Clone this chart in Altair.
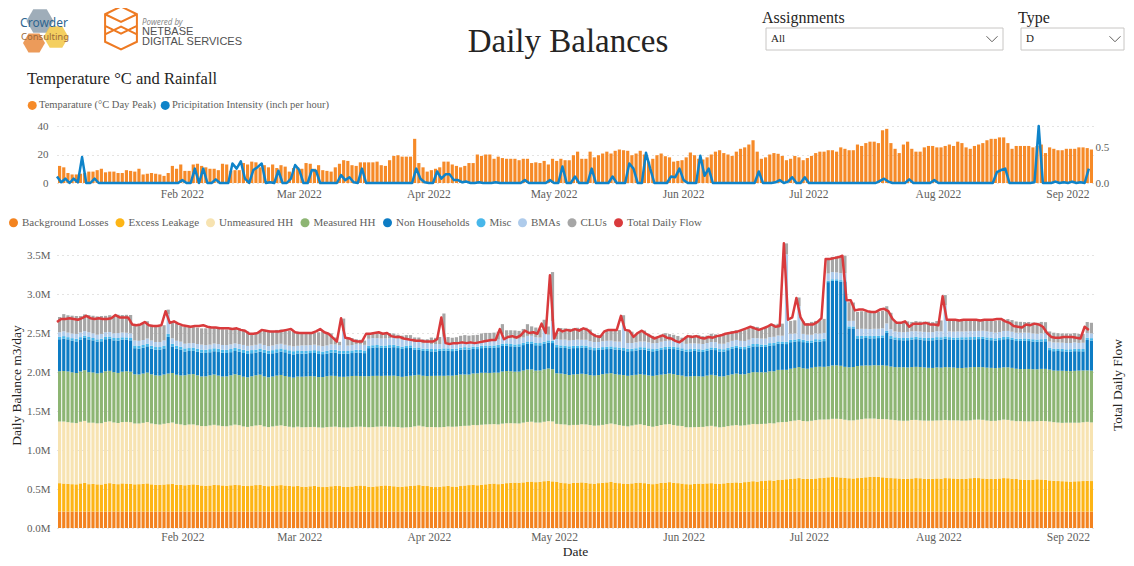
import altair as alt
import pandas as pd

# ------------------------------------------------------------------ data
dates = pd.date_range("2022-01-02", "2022-09-06", freq="D").strftime("%Y-%m-%d").tolist()

stack_series = ["Background Losses", "Excess Leakage", "Unmeasured HH", "Measured HH",
                "Non Households", "Misc", "BMAs", "CLUs"]
line_series = "Total Daily Flow"
stack_colors = ["#F3831F", "#FDB515", "#F7E3B1", "#8DB573", "#0D7CC4", "#48B7EA", "#AECBEB", "#A6A6A6"]
line_color = "#D93A3C"

# values in thousand m3/day, one per day (Jan 2 .. Sep 6 2022)
background_losses = [
    210, 210, 210, 210, 210, 210, 210, 210, 210, 210, 210, 210, 210, 210, 210, 210, 210, 210, 210, 210,
    210, 210, 210, 210, 210, 210, 210, 210, 210, 210,
    210, 210, 210, 210, 210, 210, 210, 210, 210, 210, 210, 210, 210, 210, 210, 210, 210, 210, 210, 210,
    210, 210, 210, 210, 210, 210, 210, 210,
    210, 210, 210, 210, 210, 210, 210, 210, 210, 210, 210, 210, 210, 210, 210, 210, 210, 210, 210, 210,
    210, 210, 210, 210, 210, 210, 210, 210, 210, 210, 210,
    210, 210, 210, 210, 210, 210, 210, 210, 210, 210, 210, 210, 210, 210, 210, 210, 210, 210, 210, 210,
    210, 210, 210, 210, 210, 210, 210, 210, 210, 210,
    210, 210, 210, 210, 210, 210, 210, 210, 210, 210, 210, 210, 210, 210, 210, 210, 210, 210, 210, 210,
    210, 210, 210, 210, 210, 210, 210, 210, 210, 210, 210,
    210, 210, 210, 210, 210, 210, 210, 210, 210, 210, 210, 210, 210, 210, 210, 210, 210, 210, 210, 210,
    210, 210, 210, 210, 210, 210, 210, 210, 210, 210,
    210, 210, 210, 210, 210, 210, 210, 210, 210, 210, 210, 210, 210, 210, 210, 210, 210, 210, 210, 210,
    210, 210, 210, 210, 210, 210, 210, 210, 210, 210, 210,
    210, 210, 210, 210, 210, 210, 210, 210, 210, 210, 210, 210, 210, 210, 210, 210, 210, 210, 210, 210,
    210, 210, 210, 210, 210, 210, 210, 210, 210, 210, 210,
    210, 210, 210, 210, 210, 210,
]
excess_leakage = [
    365, 360, 355, 352, 350, 362, 368, 352, 355, 350, 348, 360, 365, 355, 352, 362, 360, 358, 350, 352,
    356, 362, 350, 345, 342, 348, 352, 358, 345, 342,
    338, 345, 350, 342, 335, 330, 335, 345, 340, 336, 332, 338, 345, 340, 330, 328, 335, 340, 342, 330,
    326, 332, 336, 340, 335, 330, 325, 330,
    320, 318, 325, 330, 322, 315, 318, 325, 332, 328, 320, 316, 322, 330, 335, 328, 320, 318, 325, 332,
    336, 330, 325, 320, 318, 325, 330, 335, 340, 332, 328,
    320, 315, 318, 325, 330, 322, 320, 328, 335, 340, 345, 338, 342, 350, 355, 360, 352, 358, 365, 370,
    372, 368, 375, 380, 385, 378, 382, 390, 395, 388,
    380, 372, 365, 360, 368, 372, 375, 368, 362, 358, 365, 370, 375, 380, 372, 365, 360, 355, 362, 368,
    372, 365, 358, 352, 360, 368, 372, 378, 370, 365, 360,
    352, 350, 355, 360, 358, 362, 365, 360, 355, 362, 368, 372, 375, 370, 378, 385, 390, 385, 392, 398,
    402, 395, 405, 410, 415, 420, 425, 430, 420, 418,
    420, 425, 430, 435, 440, 445, 442, 438, 432, 428, 425, 430, 435, 440, 445, 448, 445, 440, 435, 430,
    428, 425, 420, 418, 425, 430, 428, 422, 418, 420, 425,
    422, 430, 428, 425, 420, 418, 422, 428, 432, 430, 425, 420, 418, 422, 425, 430, 428, 422, 418, 412,
    408, 405, 410, 415, 412, 408, 400, 395, 392, 390, 388,
    385, 388, 390, 392, 395, 392,
]
unmeasured_hh = [
    790, 795, 792, 788, 785, 790, 795, 788, 785, 782, 786, 790, 792, 788, 784, 786, 790, 788, 780, 778,
    782, 786, 780, 776, 774, 778, 782, 785, 780, 776,
    770, 772, 768, 765, 762, 766, 770, 768, 764, 760, 762, 766, 770, 768, 762, 758, 760, 764, 768, 762,
    758, 760, 764, 766, 762, 758, 755, 760,
    762, 765, 760, 756, 758, 762, 766, 762, 758, 755, 760, 764, 762, 758, 755, 758, 762, 766, 764, 760,
    756, 758, 762, 765, 760, 756, 754, 758, 762, 760, 756,
    765, 768, 764, 760, 762, 766, 770, 768, 765, 762, 766, 770, 772, 768, 765, 762, 766, 770, 768, 764,
    760, 762, 766, 770, 768, 764, 760, 762, 765, 768,
    745, 748, 752, 748, 744, 740, 745, 750, 748, 744, 740, 742, 746, 750, 748, 744, 740, 738, 742, 746,
    748, 744, 740, 736, 738, 742, 746, 744, 740, 736, 738,
    730, 732, 728, 725, 728, 732, 735, 730, 726, 724, 728, 732, 735, 732, 728, 730, 734, 736, 732, 728,
    732, 736, 740, 738, 735, 740, 742, 745, 742, 740,
    745, 748, 750, 746, 742, 745, 748, 750, 746, 742, 745, 748, 750, 752, 748, 745, 742, 746, 750, 748,
    745, 742, 745, 748, 750, 746, 742, 745, 748, 746, 744,
    748, 745, 742, 746, 750, 748, 745, 742, 746, 750, 752, 748, 745, 742, 746, 750, 748, 745, 742, 748,
    750, 752, 748, 745, 750, 752, 755, 752, 750, 748, 752,
    755, 752, 750, 754, 756, 752,
]
measured_hh = [
    645, 648, 650, 646, 642, 645, 650, 648, 644, 640, 645, 650, 648, 645, 642, 646, 650, 648, 630, 628,
    632, 635, 630, 626, 628, 632, 636, 634, 630, 628,
    640, 642, 645, 640, 636, 638, 642, 645, 640, 636, 640, 644, 646, 642, 638, 636, 640, 644, 646, 642,
    638, 640, 644, 646, 642, 640, 638, 642,
    648, 650, 652, 648, 645, 648, 652, 655, 650, 646, 648, 652, 655, 652, 648, 650, 654, 656, 652, 648,
    650, 654, 656, 652, 650, 654, 658, 655, 652, 650, 654,
    655, 658, 660, 656, 652, 655, 660, 662, 658, 655, 660, 664, 666, 662, 658, 660, 664, 668, 670, 666,
    662, 665, 668, 672, 670, 666, 668, 672, 675, 670,
    648, 650, 645, 642, 646, 650, 648, 644, 640, 642, 646, 650, 648, 645, 642, 646, 650, 648, 644, 640,
    642, 646, 648, 652, 650, 646, 644, 648, 652, 650, 646,
    650, 652, 655, 650, 646, 650, 654, 656, 652, 648, 652, 656, 660, 658, 655, 660, 664, 666, 662, 660,
    665, 668, 672, 670, 668, 672, 675, 678, 676, 674,
    680, 682, 678, 675, 680, 684, 686, 682, 678, 680, 684, 688, 686, 682, 680, 684, 688, 690, 686, 682,
    680, 684, 686, 682, 678, 680, 684, 682, 678, 676, 680,
    676, 678, 680, 676, 672, 675, 678, 680, 676, 672, 675, 678, 680, 676, 672, 670, 674, 676, 672, 668,
    670, 672, 668, 665, 668, 670, 666, 662, 665, 668, 664,
    662, 665, 668, 664, 660, 664,
]
non_households = [
    410, 415, 412, 408, 405, 410, 415, 420, 412, 408, 405, 410, 412, 408, 415, 410, 405, 402, 335, 330,
    332, 336, 330, 328, 332, 335, 470, 340, 336, 332,
    305, 300, 298, 302, 306, 300, 296, 298, 302, 305, 300, 296, 298, 300, 304, 300, 296, 292, 295, 300,
    302, 298, 296, 300, 304, 300, 298, 296,
    295, 292, 296, 300, 298, 294, 290, 295, 300, 298, 296, 292, 294, 298, 300, 296, 360, 362, 365, 360,
    358, 362, 365, 360, 358, 362, 360, 325, 320, 318, 322,
    315, 312, 318, 322, 318, 315, 312, 316, 320, 318, 315, 312, 316, 320, 322, 318, 325, 328, 325, 320,
    318, 322, 326, 330, 328, 325, 322, 326, 330, 335,
    335, 332, 336, 340, 338, 335, 332, 336, 330, 326, 322, 318, 315, 312, 316, 320, 318, 314, 310, 312,
    316, 320, 318, 315, 312, 316, 320, 318, 322, 325, 320,
    318, 320, 322, 318, 315, 318, 322, 325, 320, 318, 322, 326, 328, 325, 322, 326, 330, 332, 328, 325,
    330, 334, 336, 332, 330, 340, 336, 332, 335, 330,
    320, 325, 322, 330, 1080, 1085, 1082, 1078, 1090, 500, 495, 355, 350, 352, 348, 345, 350, 355, 420, 360,
    352, 348, 345, 350, 352, 355, 350, 348, 352, 355, 358,
    360, 362, 358, 355, 360, 365, 362, 358, 355, 360, 362, 358, 355, 352, 356, 360, 362, 358, 355, 360,
    362, 358, 355, 352, 350, 354, 250, 248, 252, 250, 248,
    250, 252, 248, 245, 390, 385,
]
misc = [
    30, 32, 28, 30, 33, 30, 28, 31, 30, 29, 32, 30, 28, 30, 33, 31, 29, 30, 35, 36,
    34, 35, 37, 35, 34, 36, 40, 35, 34, 36,
    40, 38, 42, 40, 39, 41, 40, 38, 42, 40, 39, 41, 40, 38, 40, 42, 40, 38, 40, 41,
    39, 40, 42, 40, 38, 40, 41, 39,
    36, 35, 34, 36, 35, 33, 35, 36, 34, 35, 36, 35, 34, 36, 35, 34, 30, 31, 30, 29,
    30, 31, 30, 29, 30, 31, 30, 30, 31, 29, 30,
    30, 31, 29, 30, 31, 30, 29, 30, 31, 30, 29, 30, 31, 30, 29, 30, 31, 30, 29, 30,
    31, 30, 29, 30, 31, 30, 29, 30, 31, 30,
    30, 29, 31, 30, 29, 31, 30, 30, 29, 31, 30, 29, 30, 31, 30, 29, 30, 31, 30, 29,
    30, 31, 30, 29, 30, 31, 30, 29, 30, 31, 30,
    31, 30, 29, 30, 31, 30, 29, 30, 31, 30, 29, 30, 31, 30, 29, 30, 31, 30, 29, 30,
    31, 30, 29, 30, 31, 30, 29, 30, 31, 30,
    30, 31, 29, 30, 20, 20, 21, 20, 20, 25, 25, 30, 31, 29, 30, 31, 30, 29, 30, 31,
    30, 29, 30, 31, 30, 29, 30, 31, 30, 29, 30,
    30, 31, 29, 30, 31, 30, 29, 30, 31, 30, 29, 30, 31, 30, 29, 30, 31, 30, 29, 30,
    31, 30, 29, 30, 31, 30, 29, 30, 31, 30, 29,
    30, 31, 29, 30, 30, 31,
]
bmas = [
    60, 62, 58, 60, 63, 60, 58, 61, 60, 59, 62, 60, 58, 60, 63, 61, 59, 60, 65, 66,
    64, 65, 67, 65, 64, 66, 250, 70, 66, 65,
    60, 62, 58, 60, 63, 60, 58, 61, 60, 59, 62, 60, 58, 60, 63, 61, 59, 60, 62, 61,
    59, 60, 62, 60, 58, 60, 61, 59,
    70, 72, 68, 70, 71, 69, 70, 72, 68, 70, 250, 70, 69, 71, 70, 72, 90, 92, 88, 90,
    91, 89, 90, 92, 88, 90, 91, 70, 72, 68, 70,
    62, 64, 60, 150, 63, 61, 60, 62, 64, 63, 61, 62, 65, 66, 64, 65, 67, 120, 68, 70,
    72, 70, 68, 71, 73, 72, 70, 150, 72, 250,
    75, 73, 76, 74, 75, 77, 73, 75, 76, 74, 72, 75, 76, 74, 73, 75, 300, 76, 74, 75,
    73, 75, 76, 74, 72, 75, 76, 74, 73, 75, 76,
    70, 72, 68, 70, 71, 69, 70, 72, 68, 70, 71, 73, 72, 74, 75, 73, 76, 74, 75, 77,
    76, 78, 76, 75, 1120, 78, 76, 420, 75, 76,
    72, 74, 73, 75, 90, 92, 88, 90, 91, 70, 72, 90, 92, 88, 90, 91, 89, 90, 92, 88,
    75, 76, 74, 75, 77, 73, 75, 76, 74, 75, 76,
    75, 400, 74, 75, 77, 73, 75, 76, 74, 75, 76, 78, 75, 73, 75, 76, 74, 75, 77, 75,
    74, 76, 75, 73, 76, 75, 80, 82, 78, 80, 81,
    80, 82, 78, 80, 60, 62,
]
clus = [
    195, 220, 222, 228, 230, 210, 215, 220, 225, 235, 230, 210, 215, 222, 235, 225, 230, 235, 200, 198,
    205, 222, 200, 200, 198, 195, 60, 210, 222, 205,
    215, 212, 205, 210, 208, 215, 212, 210, 205, 202, 200, 198, 195, 200, 195, 185, 150, 150, 160, 195,
    190, 185, 185, 182, 190, 190, 195, 175,
    155, 150, 148, 150, 170, 200, 160, 140, 90, 45, 165, 95, 90, 65, 60, 55, 60, 62, 65, 68,
    62, 66, 55, 50, 52, 45, 40, 60, 55, 52, 50,
    85, 80, 90, 297, 82, 80, 85, 88, 90, 88, 86, 90, 92, 95, 98, 100, 102, 130, 100, 105,
    108, 100, 110, 150, 120, 125, 110, 130, 105, 630,
    80, 150, 145, 150, 148, 152, 150, 155, 150, 105, 90, 88, 140, 150, 150, 148, 120, 150, 145, 95,
    120, 140, 110, 95, 80, 90, 100, 85, 80, 70, 60,
    95, 105, 100, 110, 100, 95, 105, 100, 110, 115, 120, 125, 125, 130, 140, 145, 150, 145, 135, 140,
    145, 160, 150, 155, 140, 165, 170, 110, 160, 150,
    165, 160, 170, 180, 190, 195, 205, 215, 225, 240, 235, 220, 225, 222, 215, 212, 218, 225, 220, 210,
    130, 125, 130, 135, 120, 130, 128, 132, 135, 128, 130,
    140, 130, 145, 150, 148, 145, 150, 148, 152, 150, 145, 148, 150, 152, 150, 148, 152, 150, 145, 140,
    135, 138, 140, 142, 145, 140, 130, 125, 120, 118, 122,
    120, 118, 115, 112, 140, 135,
]
total_daily_flow = [
    2640, 2680, 2680, 2690, 2680, 2670, 2690, 2720, 2690, 2680, 2690, 2680, 2680, 2690, 2730, 2700, 2700, 2700, 2610, 2600,
    2610, 2640, 2600, 2590, 2590, 2600, 2780, 2630, 2650, 2620,
    2600, 2590, 2580, 2590, 2590, 2600, 2580, 2570, 2570, 2560, 2560, 2560, 2550, 2560, 2540, 2530, 2490, 2490, 2500, 2540,
    2530, 2520, 2520, 2520, 2530, 2540, 2550, 2510,
    2500, 2500, 2500, 2500, 2520, 2550, 2510, 2490, 2440, 2390, 2690, 2440, 2430, 2400, 2390, 2390, 2490, 2490, 2500, 2510,
    2490, 2500, 2460, 2450, 2450, 2430, 2420, 2410, 2400, 2400, 2390,
    2390, 2390, 2420, 2700, 2370, 2360, 2370, 2370, 2380, 2370, 2380, 2370, 2380, 2390, 2400, 2410, 2410, 2550, 2420, 2450,
    2460, 2440, 2470, 2530, 2500, 2510, 2490, 2620, 2500, 3240,
    2430, 2550, 2520, 2540, 2530, 2550, 2530, 2560, 2540, 2490, 2460, 2450, 2520, 2540, 2540, 2540, 2720, 2540, 2530, 2450,
    2500, 2530, 2490, 2460, 2430, 2450, 2470, 2440, 2430, 2400, 2380,
    2420, 2460, 2450, 2460, 2440, 2430, 2450, 2440, 2460, 2470, 2490, 2500, 2510, 2520, 2540, 2560, 2580, 2560, 2540, 2560,
    2580, 2610, 2580, 2590, 3650, 2670, 2700, 2950, 2700, 2610,
    2610, 2610, 2640, 2690, 3450, 3450, 3460, 3470, 3490, 2920, 2920, 2790, 2800, 2800, 2780, 2770, 2770, 2800, 2810, 2780,
    2680, 2630, 2630, 2650, 2580, 2620, 2620, 2620, 2630, 2610, 2610,
    2600, 2970, 2670, 2670, 2670, 2660, 2670, 2670, 2670, 2670, 2660, 2670, 2670, 2670, 2680, 2680, 2650, 2630, 2590, 2580,
    2570, 2610, 2600, 2620, 2610, 2580, 2500, 2450, 2440, 2440, 2450,
    2450, 2450, 2440, 2430, 2580, 2540,
]
temperature = [
    12, 11, 7, 6, 6, 6.5, 7, 8, 8, 9, 10, 7.5, 8, 8, 7, 7, 9, 8.5, 8, 10,
    6, 6.5, 7, 6.5, 6, 5, 7, 12, 10, 13,
    8.5, 8.5, 13, 13.5, 12, 11, 10, 10, 9, 13.5, 13, 8.5, 9, 9, 14, 13, 15, 14.5, 11, 12.5,
    11, 13, 10.5, 12.5, 11.5, 8, 10.5, 11,
    10, 14, 13.5, 10, 12.5, 9, 8.5, 8, 11, 13.5, 16, 15.5, 12.5, 12, 14.5, 14.5, 14.5, 14.5, 15, 12.5,
    12, 16, 19, 19.5, 18.5, 18.5, 18.5, 31, 14, 11, 8,
    9, 10, 11, 15, 15, 13, 12, 11, 12, 14, 14, 20, 19, 20, 20, 17, 18.5, 17.5, 17, 17,
    17, 16, 17, 17, 14, 14.5, 14, 15.5, 13, 17,
    15.5, 17, 16, 16, 19.5, 22, 17, 17, 22, 18, 19.5, 20.7, 22, 20.7, 22.6, 23.5, 23, 22.6, 19.5, 20.7,
    22.6, 20, 15, 17, 19.5, 20.7, 18.8, 18, 15, 15.5, 16,
    18, 21.4, 19.5, 17, 16.5, 18, 20, 22, 23, 21, 20, 19, 22, 24, 25, 27, 30, 22, 17, 18,
    20, 21, 20.5, 19, 16, 17, 19, 18, 16, 17.5,
    19, 21, 22, 22, 23, 23, 22, 25, 24, 23, 23, 27, 26, 28, 29, 29, 28, 37, 38, 28,
    24, 21, 27, 29, 24, 22, 22, 25, 26, 26, 25,
    25, 26, 27, 26, 29, 28, 25, 24, 26, 27, 28, 30, 31, 31, 32, 32, 28, 24, 26, 26,
    26, 26, 25, 26, 27, 21, 25, 24, 23, 23, 24,
    24, 24, 25, 25, 24.5, 23.5,
]
precipitation = [
    0.09, 0.01, 0.06, 0.0, 0.06, 0.01, 0.36, 0.0, 0.0, 0.06, 0, 0, 0, 0, 0, 0, 0, 0, 0, 0,
    0, 0, 0, 0, 0, 0, 0, 0, 0, 0,
    0.04, 0.0, 0.0, 0.2, 0.0, 0.2, 0.0, 0.0, 0.05, 0.0, 0.0, 0.0, 0.27, 0.2, 0.3, 0.06, 0.0, 0.18, 0.22, 0.27,
    0.0, 0.01, 0.0, 0.17, 0.0, 0.0, 0.06, 0.25,
    0.18, 0.0, 0.0, 0.18, 0.17, 0.0, 0.0, 0.0, 0.0, 0.0, 0.11, 0.04, 0.08, 0.01, 0.0, 0.2, 0.0, 0.0, 0.0, 0.0,
    0.0, 0.0, 0.0, 0.0, 0.0, 0.0, 0.0, 0.0, 0.2, 0.06, 0.01,
    0.0, 0.0, 0.16, 0.06, 0.12, 0.12, 0.04, 0.04, 0.01, 0.02, 0.0, 0.0, 0.01, 0.0, 0.0, 0.0, 0.01, 0.0, 0.0, 0.0,
    0.0, 0.0, 0.0, 0.04, 0.0, 0.0, 0.0, 0.0, 0.0, 0.04,
    0.0, 0.0, 0.23, 0.0, 0.0, 0.09, 0.0, 0.0, 0.0, 0.2, 0.0, 0.0, 0.0, 0.0, 0.09, 0.0, 0.0, 0.0, 0.27, 0.2,
    0.0, 0.0, 0.42, 0.2, 0.0, 0.0, 0.0, 0.0, 0.09, 0.08, 0.2,
    0.04, 0.0, 0.0, 0.0, 0.38, 0.1, 0.2, 0.0, 0.0, 0.0, 0.0, 0.0, 0.0, 0.0, 0.0, 0.0, 0.0, 0.0, 0.16, 0.0,
    0.0, 0.0, 0.01, 0.04, 0.0, 0.02, 0.08, 0.0, 0.0, 0.08,
    0, 0, 0, 0, 0, 0, 0, 0, 0, 0, 0, 0, 0, 0, 0, 0, 0, 0.03, 0.06, 0.02,
    0, 0, 0, 0, 0.05, 0, 0, 0, 0, 0, 0.04,
    0, 0, 0, 0, 0, 0, 0, 0, 0, 0, 0, 0, 0, 0, 0.15, 0.18, 0.2, 0, 0, 0,
    0, 0, 0, 0.01, 0.79, 0, 0, 0, 0.02, 0, 0.01,
    0.0, 0.02, 0.0, 0.01, 0.0, 0.2,
]
month_starts = ["2022-02-01", "2022-03-01", "2022-04-01", "2022-05-01",
                "2022-06-01", "2022-07-01", "2022-08-01", "2022-09-01"]
month_labels = ["Feb 2022", "Mar 2022", "Apr 2022", "May 2022",
                "Jun 2022", "Jul 2022", "Aug 2022", "Sep 2022"]
balance_ticks = [0, 500, 1000, 1500, 2000, 2500, 3000, 3500]
temp_ticks = [0, 20, 40]
precip_ticks = [0.0, 0.5]
temp_name = "Temparature (°C Day Peak)"
precip_name = "Pricipitation Intensity (inch per hour)"

components = [background_losses, excess_leakage, unmeasured_hh, measured_hh,
              non_households, misc, bmas, clus]
for arr in components + [total_daily_flow, temperature, precipitation]:
    assert len(arr) == len(dates), len(arr)

rows = []
for k, (name, vals) in enumerate(zip(stack_series, components)):
    for d, v in zip(dates, vals):
        rows.append({"date": d, "series": name, "value": v, "order": k})
stack_df = pd.DataFrame(rows)
total_df = pd.DataFrame({"date": dates, "total": total_daily_flow, "series": line_series})
temp_df = pd.DataFrame({"date": dates, "temp": temperature, "series": temp_name})
precip_df = pd.DataFrame({"date": dates, "precip": precipitation, "series": precip_name})
month_df = pd.DataFrame({"month": month_starts, "label": month_labels})
ONE = pd.DataFrame({"k": [0]})

# ------------------------------------------------------------------ style
SERIF = "Liberation Serif"
SANS = "Noto Sans"
DARK = "#252423"
GREY = "#605E5C"
GRID = "#C8C6C4"
W, H = 1036, 520

X_DOMAIN = [alt.DateTime(year=2022, month=1, date=2, utc=True),
            alt.DateTime(year=2022, month=9, date=7, utc=True)]
x_axis = alt.Axis(values=[alt.DateTime(year=2022, month=int(m[5:7]), date=1, utc=True) for m in month_starts],
                  format="%b %Y", labelFont=SERIF, labelFontSize=11.5, labelColor=GREY,
                  labelPadding=3, ticks=False, domain=False, grid=False, labelFlush=False,
                  title="Date", titleFont=SERIF, titleFontSize=13.5, titleColor=DARK,
                  titleFontWeight="normal", titlePadding=2)


def xenc(field):
    return alt.X(f"utcyearmonthdate({field}):T", scale=alt.Scale(domain=X_DOMAIN), axis=x_axis)


# ---- top chart: temperature and rainfall
top_color = alt.Color("series:N",
                      scale=alt.Scale(domain=[temp_name, precip_name], range=["#F68A28", "#0E83C9"]),
                      legend=alt.Legend(orient="none", legendX=-30, legendY=92, direction="horizontal",
                                        title=None, symbolType="circle", symbolSize=81, symbolStrokeWidth=0,
                                        symbolOpacity=1, labelFont=SERIF, labelFontSize=10.5,
                                        labelColor=GREY, labelOffset=1.5, columnPadding=4, padding=0))
temp_axis = alt.Axis(orient="left", values=temp_ticks, grid=True, gridDash=[1, 4], gridColor=GRID,
                     domain=False, ticks=False, labelPadding=9, labelFont=SERIF, labelFontSize=11,
                     labelColor=GREY, title=None)
precip_axis = alt.Axis(orient="right", values=precip_ticks, format=".1f", grid=False, domain=False,
                       ticks=False, labelPadding=2, labelFont=SERIF, labelFontSize=11,
                       labelColor=GREY, title=None)

temp_bars = alt.Chart(temp_df).mark_bar(timeUnitBandSize=0.78).encode(
    x=xenc("date"),
    y=alt.Y("temp:Q", scale=alt.Scale(domain=[0, 40], range=[175, 118], nice=False), axis=temp_axis),
    color=top_color,
)
precip_line = alt.Chart(precip_df).mark_line(strokeWidth=2.5, timeUnitBandPosition=0.5,
                                             strokeJoin="round").encode(
    x=xenc("date"),
    y=alt.Y("precip:Q", scale=alt.Scale(domain=[0, 0.8], range=[175, 117.4], nice=False), axis=precip_axis),
    color=top_color,
)
top_group = alt.layer(temp_bars, precip_line).resolve_scale(y="independent")

top_months = alt.Chart(month_df).mark_text(font=SERIF, fontSize=11.5, color=GREY, align="center",
                                            baseline="middle", timeUnitBandPosition=0).encode(
    x=xenc("month"), y=alt.value(187), text="label:N")

# ---- bottom chart: daily balances
bottom_color = alt.Color("series:N",
                         scale=alt.Scale(domain=stack_series + [line_series], range=stack_colors + [line_color]),
                         legend=alt.Legend(orient="none", legendX=-49, legendY=209, direction="horizontal",
                                           title=None, symbolType="circle", symbolSize=81, symbolStrokeWidth=0,
                                           symbolOpacity=1, labelFont=SERIF, labelFontSize=11,
                                           labelColor=GREY, labelOffset=3, columnPadding=5.5, padding=0))
bal_axis = alt.Axis(orient="left", values=balance_ticks,
                    labelExpr="format(datum.value / 1000, '.1f') + 'M'",
                    grid=True, gridDash=[1, 4], gridColor=GRID, domain=False, ticks=False,
                    labelPadding=7, labelFont=SERIF, labelFontSize=11, labelColor=GREY,
                    title="Daily Balance m3/day", titleFont=SERIF, titleFontSize=13.5, titleColor=DARK,
                    titleFontWeight="normal", titleX=-41, titleY=377, titleAngle=270,
                    titleBaseline="middle", titleAlign="center")
bal_scale = alt.Scale(domain=[0, 3700], range=[520, 231.4], nice=False)

stack_bars = alt.Chart(stack_df).mark_bar(timeUnitBandSize=0.78).encode(
    x=xenc("date"),
    y=alt.Y("value:Q", stack="zero", scale=bal_scale, axis=bal_axis),
    color=bottom_color,
    order=alt.Order("order:Q", sort="ascending"),
)
total_line = alt.Chart(total_df).mark_line(strokeWidth=2.5, timeUnitBandPosition=0.5,
                                           strokeJoin="round").encode(
    x=xenc("date"),
    y=alt.Y("total:Q", scale=bal_scale, axis=bal_axis),
    color=bottom_color,
)
bottom_group = alt.layer(stack_bars, total_line)


# ---- header / decorations (pixel positions relative to the plot origin)
def txt(text, x, y, size, color=DARK, font=SERIF, align="left", baseline="middle", angle=0, style="normal"):
    return alt.Chart(ONE).mark_text(text=text, font=font, fontSize=size, color=color, align=align,
                                    baseline=baseline, angle=angle, fontStyle=style).encode(
        x=alt.value(x), y=alt.value(y))


HEX = "M-1,0L-0.5,-0.866L0.5,-0.866L1,0L0.5,0.866L-0.5,0.866Z"
NB = ("M0,-1L0.74,-0.64L0.74,0.64L0,1L-0.74,0.64L-0.74,-0.64Z "
      "M-0.74,-0.64L0,-0.28L0.74,-0.64 M-0.74,-0.1L0,0.26L0.74,-0.1 M-0.74,0.3L0,-0.06L0.74,0.3")
CHEV = "M-1,-0.5L0,0.5L1,-0.5"


def shape(path, x, y, size, color, filled=True, opacity=1.0, sw=1.0):
    return alt.Chart(ONE).mark_point(shape=path, size=size, filled=filled, color=color,
                                     opacity=opacity, strokeWidth=sw).encode(
        x=alt.value(x), y=alt.value(y))


def box(x1, x2, y1, y2):
    return alt.Chart(ONE).mark_rect(fill="white", stroke=GRID, strokeWidth=1).encode(
        x=alt.value(x1), x2=alt.value(x2), y=alt.value(y1), y2=alt.value(y2))


header = [
    shape(HEX, -17, 13, 729, "#8E9FAD", opacity=0.85),
    shape(HEX, -23, 35, 484, "#E98A3D", opacity=0.85),
    shape(HEX, -1, 29, 625, "#F2C744", opacity=0.85),
    txt("Crowder", -13, 14.5, 12, color="#2F6690", font=SANS, align="center"),
    txt("Consulting", -12, 29, 9.5, color="#9C6A3A", font=SANS, align="center"),
    shape(NB, 64, 20, 1849, "#EE7A22", filled=False, sw=2),
    txt("Powered by", 85, 15, 8, color="#8A8A8A", font=SANS, style="italic"),
    txt("NETBASE", 85, 24, 11, color="#505050", font="Liberation Sans"),
    txt("DIGITAL SERVICES", 85, 34, 11, color="#505050", font="Liberation Sans"),
    txt("Daily Balances", 511, 34, 33, align="center"),
    txt("Assignments", 705, 14.5, 16, baseline="alphabetic"),
    txt("Type", 961, 14.5, 16, baseline="alphabetic"),
    box(709, 946, 20, 42),
    box(964, 1067, 20, 42),
    txt("All", 714, 31, 11),
    txt("D", 969, 31, 11),
    shape(CHEV, 935, 31, 121, GREY, filled=False, sw=1),
    shape(CHEV, 1058, 31, 121, GREY, filled=False, sw=1),
    txt("Temperature °C and Rainfall", -30, 71, 16.5),
    txt("Total Daily Flow", 1061, 377, 13.5, align="center", angle=270),
]

chart = alt.layer(*header, top_months, top_group, bottom_group).resolve_scale(
    y="independent", color="independent"
).properties(
    width=W, height=H,
    padding={"left": 49, "top": 0, "right": 33, "bottom": 30},
    autosize=alt.AutoSizeParams(type="none"),
).configure_view(stroke=None)

chart.save("out.html", embed_options={"renderer": "svg", "actions": False})
